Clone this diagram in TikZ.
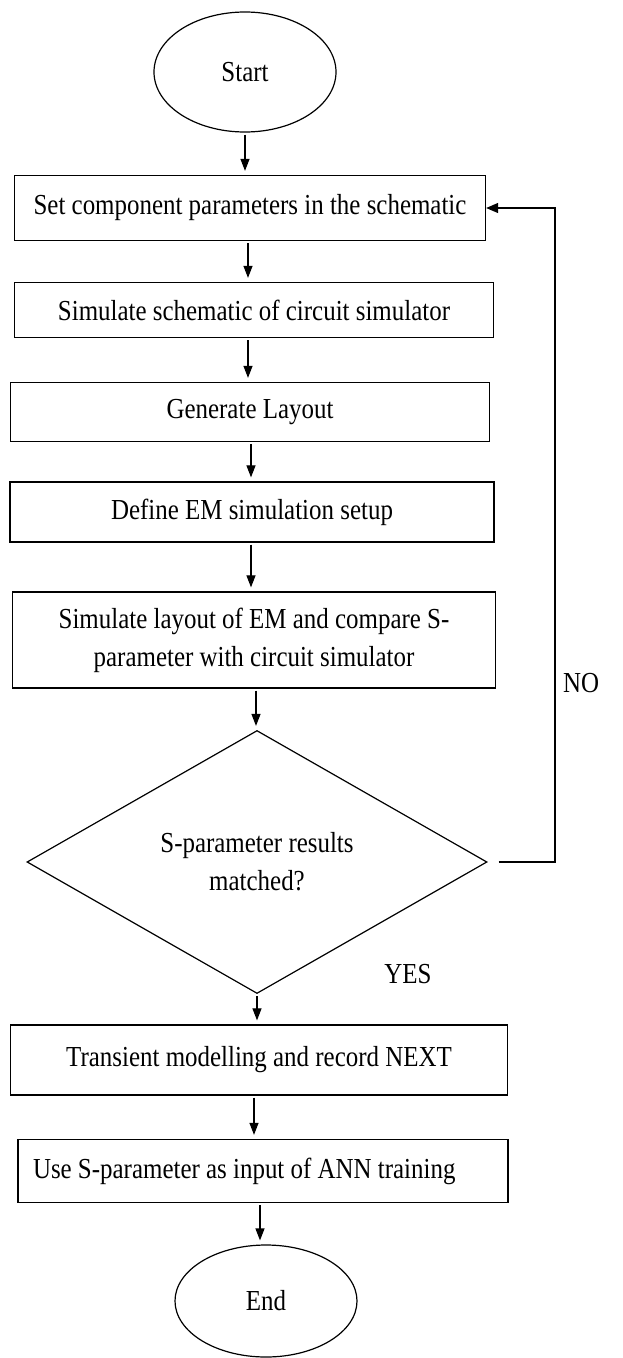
\documentclass[tikz,border=0pt]{standalone}
\usepackage{fontspec}
\setmainfont{Liberation Serif}[FakeStretch=0.86]
\usetikzlibrary{shapes.geometric,arrows.meta}
\begin{document}
\begin{tikzpicture}[x=1pt,y=-1pt,
  every node/.style={font=\fontsize{29}{38}\selectfont},
  procbox/.style={draw,line width=1.3pt,rectangle,inner sep=0pt,align=center},
  termnode/.style={draw,line width=1.2pt,ellipse,inner sep=0pt},
  decnode/.style={draw,line width=1.2pt,diamond,inner sep=0pt,align=center,shape aspect=1.7},
  flow/.style={line width=1.2pt,-{Triangle[length=12pt,width=9pt]},shorten >=4pt,shorten <=2pt},
  lbl/.style={inner sep=0pt}]
\useasboundingbox (0,0) rectangle (622,1358);
\node[termnode,minimum width=182pt,minimum height=120pt] (start) at (245,72) {Start};
\node[procbox,minimum width=471pt,minimum height=65pt] (b1) at (250,208) {Set component parameters in the schematic};
\node[procbox,minimum width=479pt,minimum height=55pt] (b2) at (254,310) {Simulate schematic of circuit simulator};
\node[procbox,minimum width=479pt,minimum height=59pt] (b3) at (250,412) {Generate Layout};
\node[procbox,minimum width=484pt,minimum height=60pt] (b4) at (252,512) {Define EM simulation setup};
\node[procbox,minimum width=483pt,minimum height=96pt] (b5) at (254,640) {Simulate layout of EM and compare S-\\parameter with circuit simulator};
\node[decnode,minimum width=460pt,minimum height=263pt] (dec) at (257,862) {S-parameter results\\matched?};
\node[procbox,minimum width=497pt,minimum height=70pt] (b6) at (259,1060) {Transient modelling and record NEXT};
\node[procbox,minimum width=490pt,minimum height=63pt,text width=460pt,align=flush left,inner xsep=15pt] (b7) at (263,1171) {Use S-parameter as input of ANN training};
\node[termnode,minimum width=182pt,minimum height=112pt] (end) at (266,1301) {End};
\node[lbl,anchor=west] (no) at (563,683) {NO};
\node[lbl] (yes) at (408,974) {YES};
\coordinate (loopR) at (555,862);
\draw[flow] (start.south) -- (start.south |- b1.north);
\draw[flow] ([xshift=-2pt]b1.south) -- ([xshift=-2pt]b1.south |- b2.north);
\draw[flow] ([xshift=-6pt]b2.south) -- ([xshift=-6pt]b2.south |- b3.north);
\draw[flow] ([xshift=1pt]b3.south) -- ([xshift=1pt]b3.south |- b4.north);
\draw[flow] ([xshift=-1pt]b4.south) -- ([xshift=-1pt]b4.south |- b5.north);
\draw[flow] ([xshift=2pt]b5.south) -- ([xshift=2pt]b5.south |- dec.north);
\draw[flow] (dec.south) -- (dec.south |- b6.north);
\draw[flow] ([xshift=-5pt]b6.south) -- ([xshift=-5pt]b6.south |- b7.north);
\draw[flow] ([xshift=-3pt]b7.south) -- ([xshift=-3pt]b7.south |- end.north);
\draw[line width=1.2pt,-{Triangle[length=12pt,width=10pt]}] ([xshift=11pt]dec.east) -- (loopR) |- (b1.east);
\end{tikzpicture}
\end{document}
